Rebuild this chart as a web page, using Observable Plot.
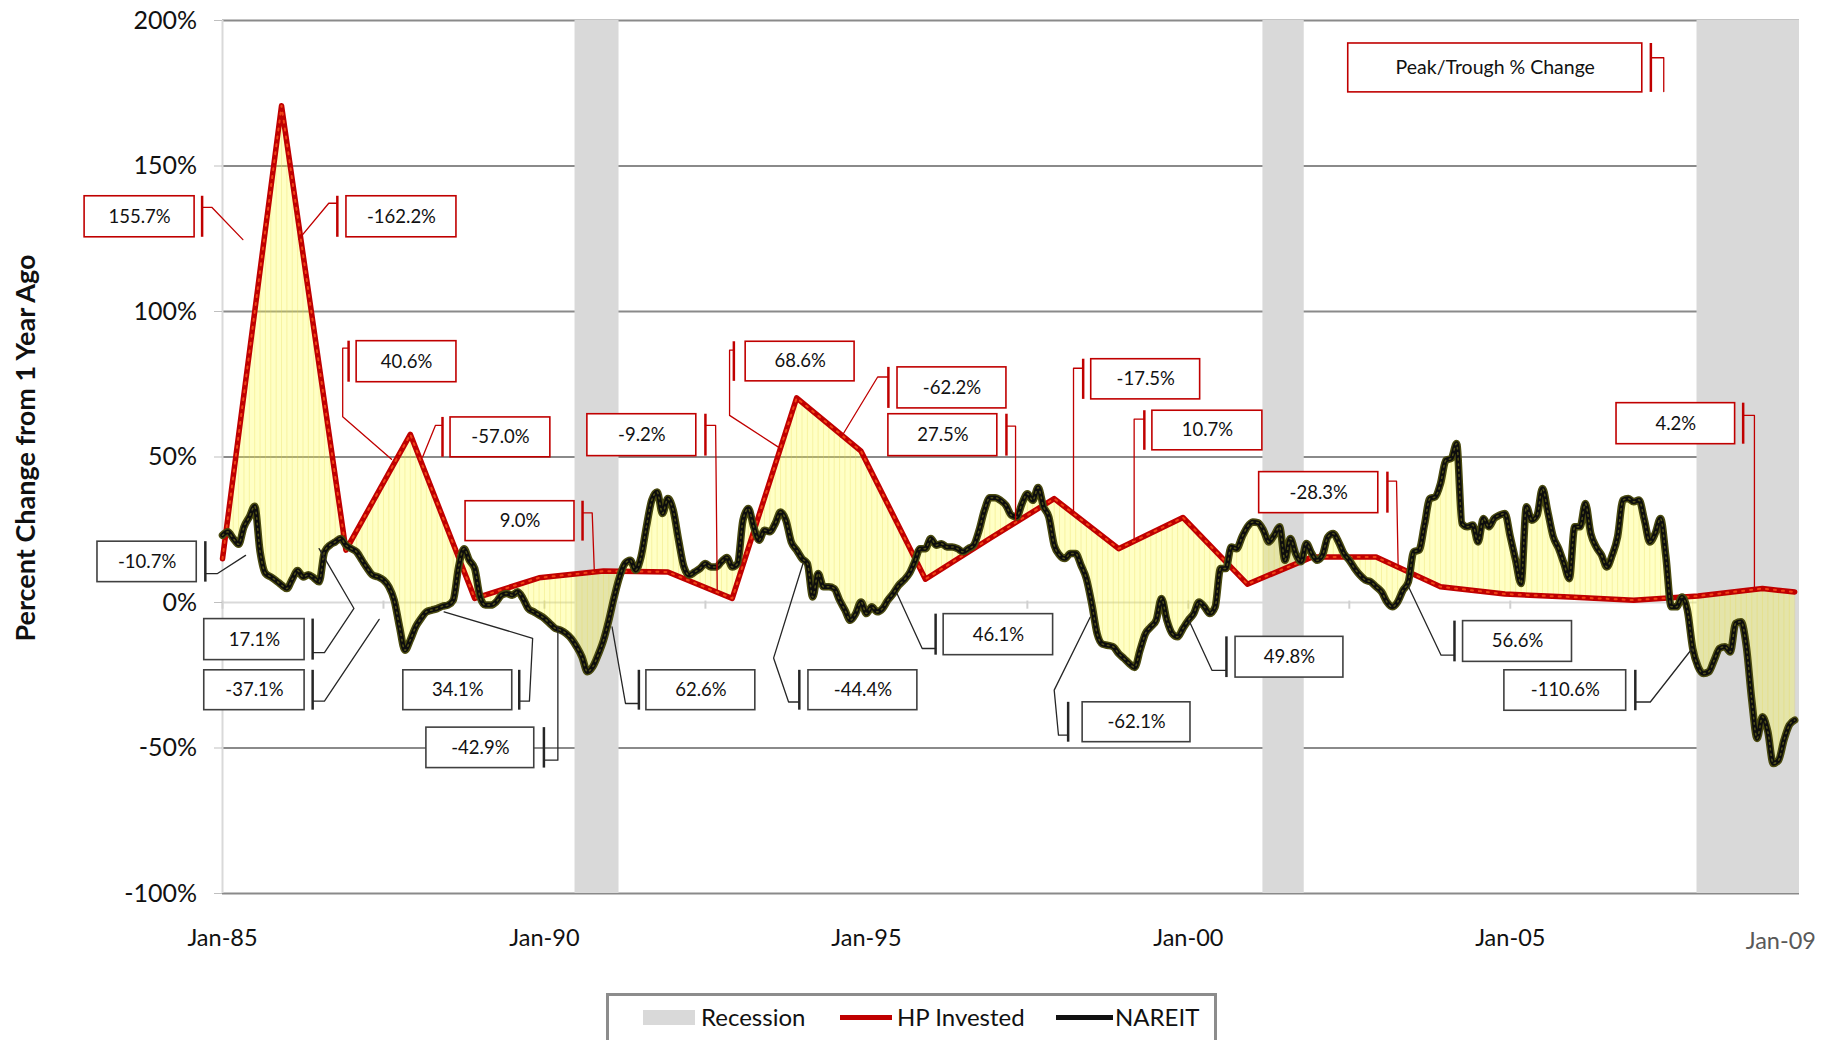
<!DOCTYPE html>
<html>
<head>
<meta charset="utf-8">
<script src="https://cdn.jsdelivr.net/npm/d3@7"></script>
<script src="https://cdn.jsdelivr.net/npm/@observablehq/plot@0.6"></script>
<style>
  html, body { margin: 0; padding: 0; background: #fff; }
  body { width: 1834px; height: 1040px; overflow: hidden; font-family: Lato, "Open Sans", sans-serif; }
  #chart svg { display: block; }
  .legend { position: relative; left: 606px; margin-top: 3px; width: 611px; height: 52px; box-sizing: border-box;
            border: 3px solid #8c8c8c; font-family: Lato, sans-serif; font-size: 24px; color: #111; }
  .legend .sw { position: absolute; }
  .legend .lb { position: absolute; top: 7px; line-height: 28px; }
</style>
</head>
<body>
<div id="chart"></div>
<div class="legend" id="legend"></div>
<script>
// ---------------- DATA ----------------
// NAREIT, % change from 1 year ago, monthly from Jan-85 (index = months since Jan-85)
const nareit = [
  23.1, 24.3, 22.0, 20.0, 26.0, 29.4, 33.1, 17.5, 10.0, 8.8, 7.5, 6.0,
  4.8, 8.0, 11.0, 8.8, 9.5, 8.5, 7.1, 17.4, 19.7, 20.8, 22.0, 19.7,
  18.5, 17.4, 14.5, 11.7, 9.4, 8.8, 7.7, 5.4, 0.8, -8.4, -16.4, -12.9,
  -8.4, -5.5, -3.2, -2.6, -2.1, -1.3, -0.9, 0.8, 12.2, 18.5, 14.5, 11.7,
  1.9, -0.9, -0.9, 0.2, 2.5, 3.1, 2.5, 3.7, 1.4, -2.1, -3.2, -4.3,
  -5.5, -7.2, -8.9, -9.5, -10.6, -12.4, -15.2, -18.7, -23.8, -22.1, -18.0, -13.0,
  -6.1, 1.9, 8.8, 13.4, 14.5, 11.1, 15.7, 26.0, 35.2, 38.0, 30.6, 35.7,
  31.7, 21.4, 12.2, 9.4, 10.5, 11.7, 13.4, 12.2, 12.2, 14.0, 15.5, 12.2,
  13.4, 28.3, 32.3, 26.0, 21.4, 24.8, 24.3, 27.1, 31.1, 28.3, 20.8, 18.0,
  15.1, 13.4, 1.9, 10.0, 5.4, 5.4, 4.8, 0.8, -2.6, -6.1, -3.8, 0.2,
  -3.8, -1.5, -3.2, -2.1, 0.8, 3.1, 5.9, 7.7, 10.0, 14.0, 18.5, 18.5,
  22.0, 19.7, 20.2, 19.1, 19.1, 18.5, 17.4, 18.5, 19.7, 24.8, 31.7, 36.0,
  36.0, 35.1, 33.4, 30.0, 29.4, 34.0, 37.4, 35.1, 39.5, 33.0, 29.4, 19.7,
  16.3, 15.1, 16.8, 16.8, 12.8, 8.2, -0.4, -10.7, -14.3, -14.7, -15.2, -17.5,
  -19.2, -21.0, -22.3, -16.4, -10.7, -8.4, -6.1, 1.4, -6.1, -10.7, -11.8, -8.9,
  -6.1, -3.8, 0.2, -1.5, -3.8, -1.5, 11.7, 11.7, 19.1, 18.5, 22.5, 26.0,
  27.7, 27.4, 24.8, 20.8, 23.1, 26.0, 14.5, 22.0, 16.8, 14.0, 20.3, 16.8,
  14.5, 16.3, 22.5, 23.7, 20.8, 16.8, 14.5, 11.7, 9.4, 7.7, 7.1, 5.4,
  3.7, 0.2, -1.5, 0.2, 4.2, 7.1, 17.4, 18.0, 26.6, 35.7, 36.3, 40.9,
  48.9, 49.5, 54.6, 27.1, 26.0, 26.6, 20.8, 28.9, 26.0, 28.9, 30.0, 30.6,
  22.6, 14.5, 6.5, 32.9, 28.3, 30.0, 39.2, 31.1, 22.6, 18.6, 13.4, 8.2,
  26.0, 26.0, 34.0, 23.7, 19.1, 16.3, 12.2, 16.3, 22.6, 35.2, 35.7, 34.6,
  35.2, 28.3, 20.8, 23.7, 28.9, 15.7, -1.5, -1.5, 1.9, -2.6, -15.8, -22.1,
  -24.4, -23.8, -19.8, -15.8, -15.2, -17.0, -7.2, -6.6, -15.2, -33.5, -46.7, -39.3,
  -44.4, -55.3, -54.2, -47.3, -42.1, -40.4
];
// HP Invested, % change from 1 year ago (annual readings, months since Jan-85)
const hpMonths = [0, 11, 23, 35, 47, 59, 71, 83, 95, 107, 119, 131, 143, 155, 167, 179, 191, 203, 215, 227, 239, 251, 263, 275, 287, 293];
const hpValues = [15, 170.7, 18, 57.8, 1.4, 8.5, 10.8, 10.5, 1.4, 70.3, 52, 8, 22, 35.7, 18.5, 29.2, 6.3, 15.6, 15.6, 5.4, 2.9, 1.9, 0.8, 2.2, 4.8, 3.6];
// Recessions (months since Jan-85)
const recessionStart = [65.7, 193.9, 274.8];
const recessionEnd   = [73.9, 201.6, 293.9];
// Axes
const xTickMonths = [0, 60, 120, 180, 240];
const xTickLabels = ["Jan-85", "Jan-90", "Jan-95", "Jan-00", "Jan-05"];
const xLastTickMonth = 288;
const xLastTickLabel = "Jan-09";
const yTicks = [-100, -50, 0, 50, 100, 150, 200];
const yTitle = "Percent Change from 1 Year Ago";
const seriesNames = ["Recession", "HP Invested", "NAREIT"];

// Peak/trough call-outs (label, series)
const calloutLabels = ["155.7%", "-162.2%", "40.6%", "-57.0%", "9.0%", "-9.2%", "68.6%", "-62.2%", "27.5%", "-17.5%", "10.7%", "-28.3%", "4.2%", "Peak/Trough % Change",
  "-10.7%", "17.1%", "-37.1%", "34.1%", "-42.9%", "62.6%", "-44.4%", "46.1%", "-62.1%", "49.8%", "56.6%", "-110.6%"];
const calloutSeries = ["hp","hp","hp","hp","hp","hp","hp","hp","hp","hp","hp","hp","hp","hp",
  "nareit","nareit","nareit","nareit","nareit","nareit","nareit","nareit","nareit","nareit","nareit","nareit"];

// Call-out placement, in data units (x: months since Jan-85, y: %)
const calloutLayout = [
  {x1:-25.7, x2:-5.2,  y1:139.6, y2:125.5, bar:-3.8,  lead:[[-3.8,135.8],[-2.0,135.8],[3.8,124.7]]},
  {x1:23.1,  x2:43.6,  y1:139.6, y2:125.5, bar:21.4,  lead:[[21.4,137.2],[19.8,137.2],[14.2,124.8]]},
  {x1:25.0,  x2:43.6,  y1:89.8,  y2:75.7,  bar:23.5,  lead:[[23.5,87.4],[22.4,87.4],[22.4,63.8],[31.5,49.2]]},
  {x1:42.5,  x2:61.1,  y1:63.6,  y2:49.9,  bar:41.0,  lead:[[41.0,60.9],[39.7,60.9],[37.3,50.0]]},
  {x1:45.3,  x2:65.6,  y1:34.8,  y2:21.1,  bar:67.1,  lead:[[67.1,30.8],[68.9,30.8],[69.3,10.5]]},
  {x1:68.0,  x2:88.3,  y1:64.7,  y2:50.3,  bar:90.0,  lead:[[90.0,60.9],[91.9,60.9],[92.2,4.2]]},
  {x1:97.5,  x2:117.8, y1:89.6,  y2:76.0,  bar:95.3,  lead:[[95.3,86.7],[94.5,86.7],[94.5,64.3],[103.6,53.4]]},
  {x1:125.8, x2:146.1, y1:80.8,  y2:66.7,  bar:124.1, lead:[[124.1,77.5],[122.1,77.5],[115.3,56.8]]},
  {x1:124.1, x2:144.4, y1:64.7,  y2:50.3,  bar:146.1, lead:[[146.1,60.6],[147.8,60.6],[147.8,28.3]]},
  {x1:161.9, x2:182.2, y1:83.6,  y2:69.8,  bar:160.4, lead:[[160.4,80.5],[158.6,80.5],[158.6,30.7]]},
  {x1:173.3, x2:193.8, y1:65.9,  y2:52.3,  bar:171.8, lead:[[171.8,63.0],[169.9,63.0],[169.9,21.4]]},
  {x1:193.2, x2:215.4, y1:44.8,  y2:30.7,  bar:217.1, lead:[[217.1,41.7],[218.8,41.7],[219.1,12.5]]},
  {x1:259.8, x2:281.9, y1:68.5,  y2:54.4,  bar:283.4, lead:[[283.4,64.3],[285.5,64.3],[285.5,4.9]]},
  {x1:209.8, x2:264.6, y1:192.1, y2:175.3, bar:266.2, lead:[[266.2,187.2],[268.6,187.2],[268.6,175.6]]},
  {x1:-23.3, x2:-4.8,  y1:20.9,  y2:7.0,   bar:-3.2,  lead:[[-3.2,9.9],[-1.0,9.9],[4.3,16.2]]},
  {x1:-3.4,  x2:15.3,  y1:-5.7,  y2:-19.8, bar:16.8,  lead:[[16.8,-17.2],[19.0,-17.2],[24.5,-2.05],[18.0,18.5]]},
  {x1:-3.4,  x2:15.3,  y1:-23.3, y2:-37.0, bar:16.8,  lead:[[16.8,-33.9],[19.0,-33.9],[29.2,-5.8]]},
  {x1:33.7,  x2:54.0,  y1:-23.3, y2:-37.0, bar:55.3,  lead:[[55.3,-33.9],[57.2,-33.9],[57.8,-12.3],[41.3,-3.2]]},
  {x1:38.0,  x2:58.1,  y1:-43.0, y2:-56.9, bar:59.9,  lead:[[59.9,-54.2],[62.5,-54.2],[62.5,-8.3]]},
  {x1:79.0,  x2:99.3,  y1:-23.3, y2:-37.0, bar:77.6,  lead:[[77.6,-34.7],[75.1,-34.7],[72.6,-8.4]]},
  {x1:109.2, x2:129.5, y1:-23.3, y2:-37.0, bar:107.5, lead:[[107.5,-34.2],[105.5,-34.2],[102.7,-19.1],[108.2,13.5]]},
  {x1:134.4, x2:154.8, y1:-4.0,  y2:-18.1, bar:132.9, lead:[[132.9,-15.8],[130.4,-15.8],[125.7,3.1]]},
  {x1:160.3, x2:180.4, y1:-34.3, y2:-48.0, bar:157.6, lead:[[157.6,-45.6],[155.8,-45.6],[155.0,-30.1],[161.7,-5.05]]},
  {x1:188.8, x2:208.9, y1:-11.8, y2:-25.8, bar:187.1, lead:[[187.1,-23.3],[184.4,-23.3],[180.1,-6.1]]},
  {x1:231.2, x2:251.5, y1:-6.4,  y2:-20.4, bar:229.6, lead:[[229.6,-18.1],[227.1,-18.1],[220.9,5.9]]},
  {x1:238.9, x2:261.6, y1:-23.3, y2:-37.2, bar:263.3, lead:[[263.3,-34.2],[266.1,-34.2],[273.9,-15.8]]}
];

// ---------------- TABLES FOR PLOT ----------------
const nRows = nareit.map((v, i) => ({m: i, v}));
const hpRows = hpMonths.map((m, i) => ({m, v: hpValues[i]}));
const hpAt = d3.scaleLinear(hpMonths, hpValues);
const fillRows = nareit.map((v, i) => ({m: i, n: v, h: hpAt(i)}));
const recessions = recessionStart.map((s, i) => ({s, e: recessionEnd[i]}));
const callouts = calloutLabels.map((label, i) => ({label, series: calloutSeries[i], ...calloutLayout[i], id: i}));
const leaders = callouts.flatMap(c => c.lead.map(([m, p]) => ({id: c.id, series: c.series, m, p})));
const hpC = callouts.filter(c => c.series === "hp");
const nC = callouts.filter(c => c.series === "nareit");
const zeroTicks = d3.range(0, 271, 30);

const RED = "#c00000";
const DARK = "#262626";

const chart = Plot.plot({
  width: 1834,
  height: 990,
  marginLeft: 222,
  marginRight: 35,
  marginTop: 20,
  marginBottom: 97,
  style: {fontFamily: "Lato, 'Open Sans', sans-serif", fontSize: "23px", background: "white", overflow: "visible", color: "#111"},
  x: {type: "linear", domain: [0, 293.9]},
  y: {domain: [-100, 200]},
  marks: [
    Plot.ruleY(yTicks.filter(t => t !== 0), {stroke: "#8a8a8a", strokeWidth: 2}),
    Plot.rect(recessions, {x1: "s", x2: "e", y1: -100, y2: 200, fill: "#d9d9d9"}),
    Plot.ruleX([0], {y1: -100, y2: 200, stroke: "#d9d9d9", strokeWidth: 2}),
    Plot.ruleY([0], {stroke: "#d9d9d9", strokeWidth: 2}),
    Plot.ruleX(zeroTicks, {x: d => d, y1: 0.5, y2: -2.3, stroke: "#d0d0d0", strokeWidth: 2}),
    Plot.areaY(fillRows, {x: "m", y1: "h", y2: "n", fill: "#ffff40", fillOpacity: 0.3}),
    Plot.ruleX(fillRows, {x: "m", y1: "h", y2: "n", stroke: "#e6d850", strokeOpacity: 0.3, strokeWidth: 1}),
    Plot.line(hpRows, {x: "m", y: "v", stroke: RED, strokeWidth: 5.5, strokeLinejoin: "round"}),
    Plot.line(hpRows, {x: "m", y: "v", stroke: "#ff5a1e", strokeWidth: 2, strokeDasharray: "2 6", strokeOpacity: 0.75}),
    Plot.line(nRows, {x: "m", y: "v", stroke: "#4a4a10", strokeWidth: 7.5, strokeLinejoin: "round", curve: "monotone-x"}),
    Plot.line(nRows, {x: "m", y: "v", stroke: "#0d0d0d", strokeWidth: 4.5, strokeLinejoin: "round", curve: "monotone-x"}),
    Plot.line(nRows, {x: "m", y: "v", stroke: "#8c8c22", strokeWidth: 1.5, strokeDasharray: "1.5 4", strokeOpacity: 0.55, curve: "monotone-x"}),
    // call-outs
    Plot.line(leaders.filter(d => d.series === "hp"), {x: "m", y: "p", z: "id", stroke: RED, strokeWidth: 1.3}),
    Plot.line(leaders.filter(d => d.series === "nareit"), {x: "m", y: "p", z: "id", stroke: DARK, strokeWidth: 1.3}),
    Plot.ruleX(hpC, {x: "bar", y1: "y1", y2: "y2", stroke: RED, strokeWidth: 2.5}),
    Plot.ruleX(nC, {x: "bar", y1: "y1", y2: "y2", stroke: DARK, strokeWidth: 2.5}),
    Plot.rect(hpC, {x1: "x1", x2: "x2", y1: "y1", y2: "y2", fill: "white", stroke: RED, strokeWidth: 1.6}),
    Plot.rect(nC, {x1: "x1", x2: "x2", y1: "y1", y2: "y2", fill: "white", stroke: "#404040", strokeWidth: 1.6}),
    Plot.text(callouts, {x: d => (d.x1 + d.x2) / 2, y: d => (d.y1 + d.y2) / 2, text: "label", fontSize: d => d.label.length > 10 ? 19.5 : 18.5, fill: "#111"}),
    // axes
    Plot.axisY({ticks: yTicks, tickFormat: d => d + "%", tickSize: 8, tickPadding: 17.5, stroke: "#bfbfbf", fill: "#111", fontSize: 25}),
    Plot.axisX({ticks: xTickMonths, tickFormat: d => xTickLabels[xTickMonths.indexOf(d)], tickSize: 0, tickPadding: 36, fill: "#111", fontSize: 23.5}),
    Plot.axisX({ticks: [xLastTickMonth], tickFormat: () => xLastTickLabel, tickSize: 0, tickPadding: 39, dx: 13, fill: "#595959", fontSize: 23.5}),
    Plot.text([yTitle], {frameAnchor: "left", dx: -196, dy: -9, rotate: -90, textAnchor: "middle", text: d => d, fontWeight: "bold", fontSize: 27, fill: "#111"})
  ]
});
document.getElementById("chart").appendChild(chart);

// ---------------- LEGEND ----------------
const legend = document.getElementById("legend");
const items = [
  {name: seriesNames[0], sw: {left: 34, top: 14, width: 52, height: 15, background: "#d9d9d9"}, lb: 92},
  {name: seriesNames[1], sw: {left: 231, top: 19, width: 52, height: 5, background: RED}, lb: 288},
  {name: seriesNames[2], sw: {left: 447, top: 19, width: 57, height: 5, background: "#111"}, lb: 506}
];
for (const it of items) {
  const s = document.createElement("div");
  s.className = "sw";
  Object.assign(s.style, {left: it.sw.left + "px", top: it.sw.top + "px", width: it.sw.width + "px", height: it.sw.height + "px", background: it.sw.background});
  legend.appendChild(s);
  const l = document.createElement("div");
  l.className = "lb";
  l.style.left = it.lb + "px";
  l.textContent = it.name;
  legend.appendChild(l);
}
</script>
</body>
</html>
